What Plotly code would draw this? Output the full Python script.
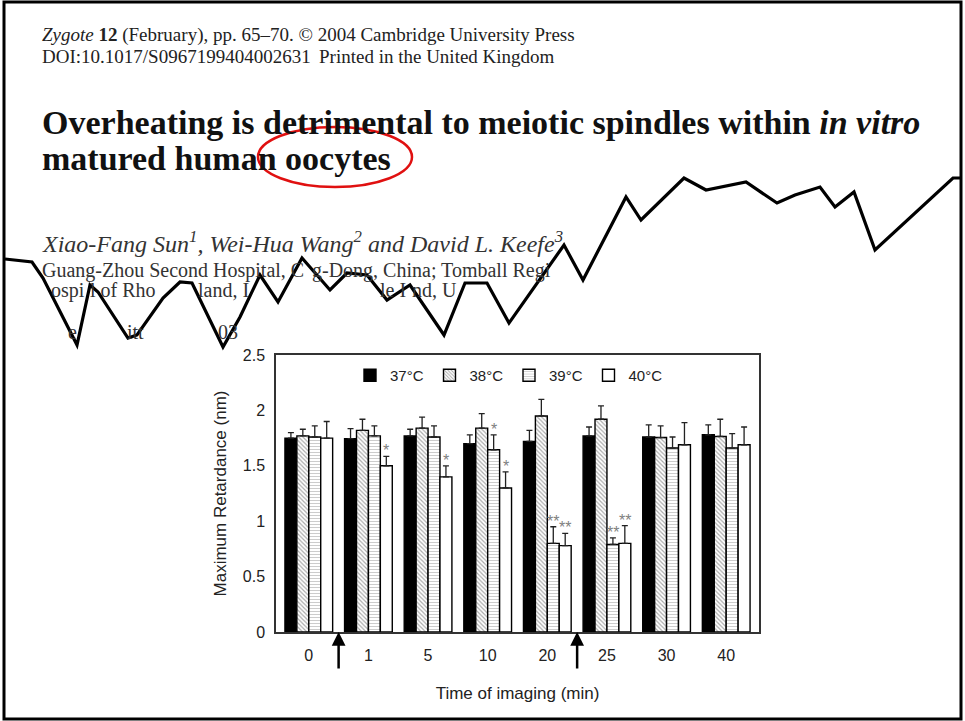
import plotly.graph_objects as go

# ---------------- data ----------------
times = ["0", "1", "5", "10", "20", "25", "30", "40"]
series_names = ["37°C", "38°C", "39°C", "40°C"]
v37 = [1.75, 1.745, 1.77, 1.70, 1.72, 1.77, 1.76, 1.78]
v38 = [1.77, 1.82, 1.84, 1.84, 1.95, 1.92, 1.755, 1.765]
v39 = [1.76, 1.77, 1.76, 1.645, 0.80, 0.79, 1.66, 1.66]
v40 = [1.75, 1.50, 1.40, 1.30, 0.78, 0.80, 1.69, 1.69]
e37 = [0.05, 0.09, 0.06, 0.08, 0.10, 0.08, 0.11, 0.09]
e38 = [0.06, 0.10, 0.10, 0.13, 0.15, 0.12, 0.105, 0.155]
e39 = [0.10, 0.09, 0.10, 0.135, 0.15, 0.06, 0.10, 0.13]
e40 = [0.15, 0.085, 0.10, 0.145, 0.11, 0.16, 0.20, 0.16]
s37 = ["", "", "", "", "", "", "", ""]
s38 = ["", "", "", "", "", "", "", ""]
s39 = ["", "", "", "*", "**", "**", "", ""]
s40 = ["", "*", "*", "*", "**", "**", "", ""]
arrow_between = [0.5, 4.5]   # arrows drawn between these category slots

values = [v37, v38, v39, v40]
errors = [e37, e38, e39, e40]
stars = [s37, s38, s39, s40]

# ---------------- geometry helpers (plot area in pixels) ----------------
W, H = 965, 721
L, R, T, B = 276, 759, 355, 632
def px(x):
    return (x - L) / (R - L)
def py(y):
    return (B - y) / (B - T)

fig = go.Figure()

styles = [
    dict(color="black", pattern=None),
    dict(color="white", pattern=dict(shape="\\", fgcolor="#555", bgcolor="white", size=3, solidity=0.4)),
    dict(color="white", pattern=dict(shape="-", fgcolor="#999", bgcolor="white", size=3, solidity=0.35)),
    dict(color="white", pattern=None),
]

xs = list(range(len(times)))
for name, vals, errs, st in zip(series_names, values, errors, styles):
    marker = dict(color=st["color"], line=dict(color="black", width=1.4))
    if st["pattern"] is not None:
        marker["pattern"] = st["pattern"]
    fig.add_trace(go.Bar(
        x=xs, y=vals, name=name, marker=marker,
        error_y=dict(type="data", array=errs, arrayminus=[0] * len(errs), symmetric=False,
                     color="#222", thickness=1.3, width=3),
    ))

# significance stars
nser = len(series_names)
bw = 0.8 / nser
annotations = []
for j, (vals, errs, ss) in enumerate(zip(values, errors, stars)):
    off = -0.4 + bw * (j + 0.5)
    for i, s in enumerate(ss):
        if s:
            annotations.append(dict(x=xs[i] + off, y=vals[i] + errs[i], xref="x", yref="y",
                                    text=s, showarrow=False, yanchor="bottom", yshift=-5,
                                    font=dict(family="Liberation Sans", size=16, color="#808080")))

# arrows under axis
for a in arrow_between:
    annotations.append(dict(x=a, y=0, xref="x", yref="y", text="", showarrow=True,
                            ax=0, ay=38, arrowhead=2, arrowsize=1.1, arrowwidth=2.5,
                            arrowcolor="black"))

# header text of the paper
serif = "Liberation Serif"
def txt(x, y, t, size, color="#222", family=serif):
    annotations.append(dict(x=px(x), y=py(y), xref="paper", yref="paper", text=t,
                            showarrow=False, xanchor="left", yanchor="middle",
                            font=dict(family=family, size=size, color=color)))

txt(40, 35, "<i>Zygote</i> <b>12</b> (February), pp. 65–70. © 2004 Cambridge University Press", 19)
txt(40, 56, "DOI:10.1017/S0967199404002631", 19)
txt(317, 56, "Printed in the United Kingdom", 19)
txt(40, 122, "<b>Overheating is detrimental to meiotic spindles within <i>in vitro</i></b>", 34, "#111")
txt(40, 158, "<b>matured human oocytes</b>", 34, "#111")
txt(40, 242, "<i>Xiao-Fang Sun<sup>1</sup>, Wei-Hua Wang<sup>2</sup> and David L. Keefe<sup>3</sup></i>", 24, "#333")
txt(40, 270, "Guang-Zhou Second Hospital, C", 20, "#333")
txt(310, 270, "g-Dong, China; Tomball Regi", 20, "#333")
txt(49, 290, "ospi", 20, "#333")
txt(88, 290, "l of Rho", 20, "#333")
txt(196, 290, "land, I", 20, "#333")
txt(378, 290, "le I", 20, "#333")
txt(410, 290, "nd, U", 20, "#333")
txt(66, 332, "e", 20, "#333")
txt(125, 332, "itt", 20, "#333")
txt(216, 332, "03", 20, "#333")

# torn-paper edge (decorative)
edge = [(5, 259), (32, 262), (43, 278), (77, 345), (90, 285), (98, 292), (128, 338), (137, 335),
        (163, 298), (180, 282), (192, 283), (223, 347), (240, 317), (260, 275), (278, 302),
        (302, 258), (330, 290), (347, 273), (367, 275), (387, 300), (410, 285), (444, 335),
        (465, 283), (487, 283), (509, 323), (564, 245), (583, 280), (626, 197), (641, 220),
        (684, 178), (706, 190), (746, 182), (777, 203), (795, 195), (820, 187), (835, 207),
        (854, 192), (875, 250), (953, 178), (962, 178)]
path = "M " + " L ".join(f"{px(x):.5f},{py(y):.5f}" for x, y in edge)
shapes = [
    dict(type="path", path=path, xref="paper", yref="paper",
         line=dict(color="black", width=3.2)),
    dict(type="circle", xref="paper", yref="paper", x0=px(258), x1=px(412), y0=py(187), y1=py(127),
         line=dict(color="#e01010", width=2.5)),
    dict(type="rect", xref="paper", yref="paper", x0=px(4), x1=px(961), y0=py(719), y1=py(2),
         line=dict(color="black", width=3)),
]

fig.update_layout(
    width=W, height=H,
    margin=dict(l=L, r=W - R, t=T, b=H - B, pad=0),
    paper_bgcolor="white", plot_bgcolor="white",
    barmode="group", bargap=0.2, bargroupgap=0,
    showlegend=True,
    legend=dict(orientation="h", x=px(350), y=py(359), xanchor="left", yanchor="top",
                bgcolor="rgba(0,0,0,0)", font=dict(family="Liberation Sans", size=15, color="#222"),
                entrywidth=34.5, entrywidthmode="pixels", traceorder="normal"),
    annotations=annotations,
    shapes=shapes,
    font=dict(family="Liberation Sans", color="#222"),
)
fig.update_xaxes(range=[-0.55, 7.55], tickvals=xs, ticktext=times, showline=True, linecolor="#333",
                 linewidth=1.5, mirror=True, ticks="", showgrid=False, zeroline=False,
                 tickfont=dict(size=16, color="#222"), ticklabelstandoff=8,
                 title=dict(text="Time of imaging (min)", font=dict(size=17, color="#222"), standoff=24))
fig.update_yaxes(range=[0, 2.5], dtick=0.5, showline=True, linecolor="#333", linewidth=1.5,
                 mirror=True, ticks="", showgrid=False, zeroline=False,
                 tickfont=dict(size=16, color="#222"), ticklabelstandoff=6,
                 title=dict(text="Maximum Retardance (nm)", font=dict(size=17, color="#222"), standoff=12))

fig.write_html("out.html", config={"displayModeBar": False},
               post_script="document.body.style.margin='0px';document.body.style.overflow='hidden';")
